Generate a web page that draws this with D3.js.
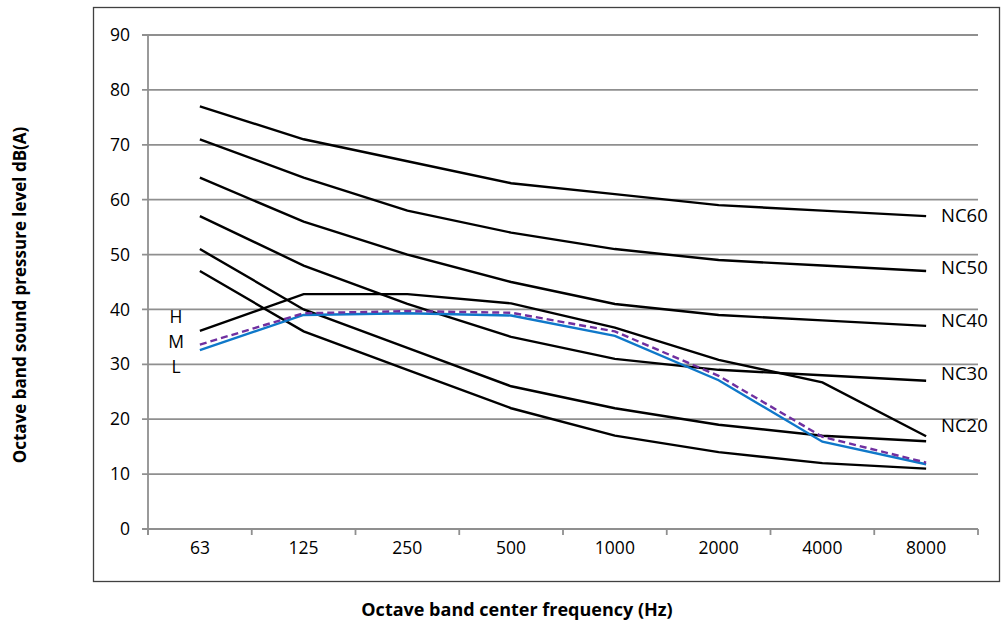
<!DOCTYPE html>
<html>
<head>
<meta charset="utf-8">
<script src="https://cdn.jsdelivr.net/npm/d3@7"></script>
<style>
  html, body { margin: 0; padding: 0; background: #fff; }
  svg text { font-family: "Open Sans", sans-serif; fill: #000; }
</style>
</head>
<body>
<div id="paper"></div>
<script>
// NC curves plus three measured spectra (H, M, L)

let bands = ["63", "125", "250", "500", "1000", "2000", "4000", "8000"];
let yTicks = [0, 10, 20, 30, 40, 50, 60, 70, 80, 90];

// noise criteria curves, top to bottom
let ncNames = ["NC60", "NC50", "NC40", "NC30", "NC20", "NC15"];
let nc60 = [77, 71, 67, 63, 61, 59, 58, 57];
let nc50 = [71, 64, 58, 54, 51, 49, 48, 47];
let nc40 = [64, 56, 50, 45, 41, 39, 38, 37];
let nc30 = [57, 48, 41, 35, 31, 29, 28, 27];
let nc20 = [51, 40, 33, 26, 22, 19, 17, 16];
let nc15 = [47, 36, 29, 22, 17, 14, 12, 11];
// where the NC labels sit (value on y axis), NC15 has none
let ncLabelNames = ["NC60", "NC50", "NC40", "NC30", "NC20"];
let ncLabelAt = [57.2, 47.6, 38.1, 28.4, 18.8];

// measured spectra
let highVals = [36.1, 42.8, 42.8, 41.1, 36.7, 30.8, 26.7, 16.9];
let midVals = [33.6, 39.3, 39.7, 39.4, 36.0, 27.9, 16.8, 12.1];
let lowVals = [32.6, 39.0, 39.3, 38.9, 35.2, 27.1, 15.9, 11.8];
let hmlNames = ["H", "M", "L"];
let hmlLabelAt = [38.6, 34.1, 29.5];

let gridColour = "#8f8f8f";
let blue = "#0f78c9";
let purple = "#7030a0";

const W = 1002, H = 624;
const svg = d3.select("#paper").append("svg")
  .attr("width", W).attr("height", H);

// outer chart border
svg.append("rect")
  .attr("x", 93.5).attr("y", 7.5)
  .attr("width", 906).attr("height", 574)
  .attr("fill", "none").attr("stroke", "#404040").attr("stroke-width", 1.3);

const x = d3.scaleBand().domain(bands).range([148, 978]);
const y = d3.scaleLinear().domain([0, 90]).range([529, 35]);

// horizontal gridlines
svg.append("g").selectAll("line")
  .data(yTicks)
  .join("line")
  .attr("x1", 142).attr("x2", 978)
  .attr("y1", (d) => y(d)).attr("y2", (d) => y(d))
  .attr("stroke", gridColour).attr("stroke-width", 1.8);

// y axis
const yAxis = svg.append("g")
  .attr("transform", "translate(148,0)")
  .call(d3.axisLeft(y).tickValues(yTicks).tickSize(0).tickPadding(18));
yAxis.select(".domain").remove();
yAxis.selectAll("text").style("font-size", "17.5px");
svg.append("line")
  .attr("x1", 148).attr("x2", 148)
  .attr("y1", y(90)).attr("y2", y(0) + 6)
  .attr("stroke", gridColour).attr("stroke-width", 1.8);

// x axis, ticks between the bands
const xAxis = svg.append("g")
  .attr("transform", "translate(0," + y(0) + ")")
  .call(d3.axisBottom(x).tickSize(0).tickPadding(13));
xAxis.select(".domain").remove();
xAxis.selectAll("text").style("font-size", "17.5px");
svg.append("g").selectAll("line")
  .data(bands.concat(["end"]))
  .join("line")
  .attr("x1", (d, i) => i < bands.length ? x(d) : x.range()[1])
  .attr("x2", (d, i) => i < bands.length ? x(d) : x.range()[1])
  .attr("y1", y(0)).attr("y2", y(0) + 6)
  .attr("stroke", gridColour).attr("stroke-width", 1.8);

const line = d3.line()
  .x((d, i) => x(bands[i]) + x.bandwidth() / 2)
  .y((d) => y(d));

let ncSeries = [nc60, nc50, nc40, nc30, nc20, nc15, highVals];
svg.append("g").selectAll("path")
  .data(ncSeries)
  .join("path")
  .attr("d", line)
  .attr("fill", "none")
  .attr("stroke", "#000")
  .attr("stroke-width", 2.4);

svg.append("path")
  .attr("d", line(lowVals))
  .attr("fill", "none").attr("stroke", blue).attr("stroke-width", 2.4);
svg.append("path")
  .attr("d", line(midVals))
  .attr("fill", "none").attr("stroke", purple).attr("stroke-width", 2.4)
  .attr("stroke-dasharray", "7,4");

// NC labels
svg.append("g").selectAll("text")
  .data(ncLabelNames)
  .join("text")
  .attr("x", 941)
  .attr("y", (d, i) => y(ncLabelAt[i]))
  .attr("dy", "0.36em")
  .style("font-size", "18.5px")
  .text((d) => d);

// H M L labels
svg.append("g").selectAll("text")
  .data(hmlNames)
  .join("text")
  .attr("x", 176)
  .attr("y", (d, i) => y(hmlLabelAt[i]))
  .attr("dy", "0.36em")
  .attr("text-anchor", "middle")
  .style("font-size", "17.5px")
  .text((d) => d);

// axis titles
svg.append("text")
  .attr("x", 517).attr("y", 610)
  .attr("dy", "0.36em")
  .attr("text-anchor", "middle")
  .style("font-size", "18px").style("font-weight", "bold")
  .text("Octave band center frequency (Hz)");

svg.append("text")
  .attr("transform", "translate(20,295) rotate(-90)")
  .attr("dy", "0.36em")
  .attr("text-anchor", "middle")
  .style("font-size", "17px").style("font-weight", "bold")
  .text("Octave band sound pressure level dB(A)");
</script>
</body>
</html>
